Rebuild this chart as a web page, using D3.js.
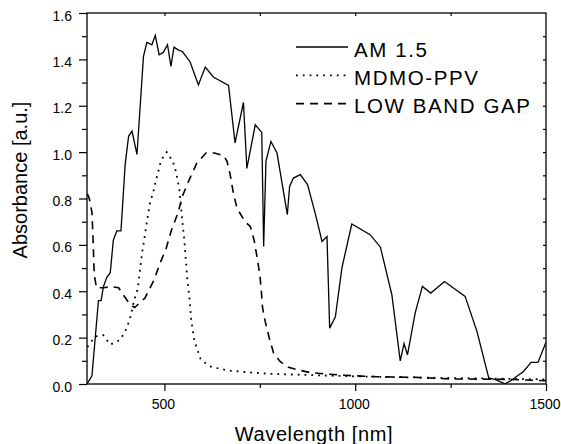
<!DOCTYPE html>
<html>
<head>
<meta charset="utf-8">
<script src="https://cdnjs.cloudflare.com/ajax/libs/d3/7.8.5/d3.min.js"></script>
<style>
	body { margin: 0; background: #fff; }
	svg { display: block; font-family: "Liberation Sans", Arial, sans-serif; }
	.axis text { font-size: 14px; fill: #000; font-family: "Liberation Sans", Arial, sans-serif; }
	.axis line { stroke: #000; stroke-width: 1.2; }
	.axis path { display: none; }
</style>
</head>
<body>
<div id="chart"></div>
<script>

// AM 1.5 spectrum (scaled)
var amWl = [297, 310, 327, 334, 340, 349, 358, 366, 375, 386, 397, 406, 415, 428, 445, 454, 467, 476, 486, 497, 508, 517, 525, 537, 547, 567, 589, 607, 628, 668, 685, 707, 716, 738, 755, 760, 766, 779, 795, 822, 828, 838, 856, 875, 895, 913, 926, 933, 948, 965, 991, 1039, 1066, 1096, 1118, 1128, 1137, 1157, 1176, 1198, 1234, 1288, 1319, 1350, 1367, 1393, 1411, 1441, 1461, 1479, 1500];
var amAbs = [0.0, 0.035, 0.36, 0.36, 0.42, 0.46, 0.48, 0.62, 0.66, 0.66, 0.946, 1.068, 1.09, 0.99, 1.413, 1.473, 1.463, 1.503, 1.42, 1.43, 1.463, 1.37, 1.453, 1.44, 1.434, 1.39, 1.29, 1.367, 1.324, 1.288, 1.04, 1.214, 0.93, 1.118, 1.085, 0.593, 0.96, 1.046, 0.996, 0.73, 0.852, 0.888, 0.903, 0.86, 0.737, 0.615, 0.636, 0.241, 0.29, 0.5, 0.69, 0.644, 0.59, 0.385, 0.10, 0.174, 0.126, 0.306, 0.421, 0.392, 0.442, 0.378, 0.227, 0.026, 0.019, 0.001, 0.018, 0.054, 0.093, 0.093, 0.18];

// MDMO-PPV
var ppvWl = [298, 318, 340, 358, 384, 401, 410, 421, 430, 436, 442, 447, 454, 462, 471, 477, 484, 491, 506, 522, 530, 539, 547, 552, 556, 560, 566, 570, 578, 595, 620, 646, 674, 725, 777, 850, 1000, 1200, 1500];
var ppvAbs = [0.16, 0.205, 0.21, 0.17, 0.19, 0.24, 0.285, 0.364, 0.41, 0.493, 0.572, 0.622, 0.70, 0.78, 0.83, 0.874, 0.917, 0.964, 1.0, 0.96, 0.917, 0.84, 0.70, 0.622, 0.536, 0.45, 0.364, 0.277, 0.19, 0.105, 0.076, 0.065, 0.057, 0.05, 0.044, 0.04, 0.033, 0.027, 0.02];

// low band gap polymer
var lbgWl = [298, 303, 310, 313, 316, 322, 340, 360, 380, 390, 410, 422, 435, 449, 473, 488, 504, 518, 536, 546, 563, 585, 609, 631, 655, 664, 672, 679, 684, 690, 711, 725, 735, 744, 750, 754, 757, 764, 776, 786, 803, 825, 847, 880, 923, 970, 1015, 1060, 1150, 1250, 1400, 1500];
var lbgAbs = [0.82, 0.80, 0.74, 0.62, 0.47, 0.415, 0.415, 0.42, 0.415, 0.39, 0.342, 0.33, 0.35, 0.371, 0.45, 0.519, 0.582, 0.662, 0.74, 0.806, 0.874, 0.953, 0.996, 0.996, 0.985, 0.96, 0.905, 0.838, 0.80, 0.759, 0.70, 0.68, 0.62, 0.535, 0.47, 0.40, 0.33, 0.27, 0.19, 0.134, 0.097, 0.072, 0.062, 0.05, 0.043, 0.038, 0.034, 0.031, 0.029, 0.022, 0.02, 0.014];

var xMajor = [500, 1000, 1500];
var xTop = [500, 750, 1000, 1250];
var xMinorTicks = [750, 1250];
var yMajor = [0, 0.2, 0.4, 0.6, 0.8, 1.0, 1.2, 1.4, 1.6];
var yMinorTicks = [0.1, 0.3, 0.5, 0.7, 0.9, 1.1, 1.3, 1.5];
var yAll = [0.1, 0.2, 0.3, 0.4, 0.5, 0.6, 0.7, 0.8, 0.9, 1.0, 1.1, 1.2, 1.3, 1.4, 1.5];

var seriesNames = ['AM 1.5', 'MDMO-PPV', 'LOW BAND GAP'];

var margin = {top: 13, right: 15, bottom: 60, left: 87},
	totalW = 561, totalH = 444,
	width = totalW - margin.left - margin.right,
	height = totalH - margin.top - margin.bottom;

function zip(a, b) {
	return a.map(function(d, i) { return {wl: d, v: b[i]}; });
}

var series = [
	{name: seriesNames[0], data: zip(amWl, amAbs), dash: null, w: 1.3},
	{name: seriesNames[1], data: zip(ppvWl, ppvAbs), dash: '1.8,5', w: 1.8},
	{name: seriesNames[2], data: zip(lbgWl, lbgAbs), dash: '8,6', w: 1.6}
];

var x = d3.scaleLinear().domain([297, 1500]).range([0, width]);
var y = d3.scaleLinear().domain([0, 1.6]).range([height, 0]);

var svg = d3.select('#chart').append('svg')
	.attr('width', totalW)
	.attr('height', totalH);

var g = svg.append('g')
	.attr('transform', 'translate(' + margin.left + ',' + margin.top + ')');

g.append('clipPath').attr('id', 'clip')
	.append('rect').attr('width', width).attr('height', height);

var line = d3.line()
	.x(function(d) { return x(d.wl); })
	.y(function(d) { return y(d.v); });

g.selectAll('.series')
	.data(series)
	.enter().append('path')
	.attr('class', 'series')
	.attr('clip-path', 'url(#clip)')
	.attr('d', function(d) { return line(d.data); })
	.attr('fill', 'none')
	.attr('stroke', '#000')
	.attr('stroke-width', function(d) { return d.w; })
	.attr('stroke-dasharray', function(d) { return d.dash; })
	.attr('stroke-linejoin', 'miter');

// axes
g.append('g').attr('class', 'axis')
	.attr('transform', 'translate(0,' + height + ')')
	.call(d3.axisBottom(x).tickValues(xMajor).tickSize(7).tickPadding(8).tickFormat(d3.format('d')))
	.selectAll('text').attr('dx', '-1.5');

g.append('g').attr('class', 'axis')
	.attr('transform', 'translate(0,' + height + ')')
	.call(d3.axisBottom(x).tickValues(xMinorTicks).tickSize(4).tickFormat(''));

g.append('g').attr('class', 'axis')
	.call(d3.axisBottom(x).tickValues(xTop).tickSize(3).tickFormat(''));

g.append('g').attr('class', 'axis')
	.call(d3.axisLeft(y).tickValues(yMajor).tickSize(8).tickPadding(7).tickFormat(d3.format('.1f')))
	.selectAll('text').attr('dy', '0.5em');

g.append('g').attr('class', 'axis')
	.call(d3.axisLeft(y).tickValues(yMinorTicks).tickSize(5).tickFormat(''));

g.append('g').attr('class', 'axis')
	.attr('transform', 'translate(' + width + ',0)')
	.call(d3.axisLeft(y).tickValues(yAll).tickSize(3).tickFormat(''));

g.append('rect')
	.attr('width', width)
	.attr('height', height)
	.attr('fill', 'none')
	.attr('stroke', '#000')
	.attr('stroke-width', 1.3);

// axis titles
svg.append('text')
	.attr('x', 314)
	.attr('y', 440.5)
	.attr('text-anchor', 'middle')
	.style('font-size', '20px')
	.style('letter-spacing', '0.6px')
	.text('Wavelength [nm]');

svg.append('text')
	.attr('transform', 'translate(26.5,180) rotate(-90)')
	.attr('text-anchor', 'middle')
	.style('font-size', '20px')
	.text('Absorbance [a.u.]');

// legend
var legend = svg.selectAll('.legend')
	.data(series)
	.enter().append('g')
	.attr('class', 'legend')
	.attr('transform', function(d, i) { return 'translate(0,' + (56.7 + i * 28.3) + ')'; });

legend.append('line')
	.attr('x1', 296).attr('x2', 348)
	.attr('y1', -9.7).attr('y2', -9.7)
	.attr('stroke', '#000')
	.attr('stroke-width', function(d) { return d.w; })
	.attr('stroke-dasharray', function(d) { return d.dash; });

legend.append('text')
	.attr('x', 354)
	.style('font-size', '20.5px')
	.style('letter-spacing', '1.6px')
	.text(function(d) { return d.name; });

</script>
</body>
</html>
